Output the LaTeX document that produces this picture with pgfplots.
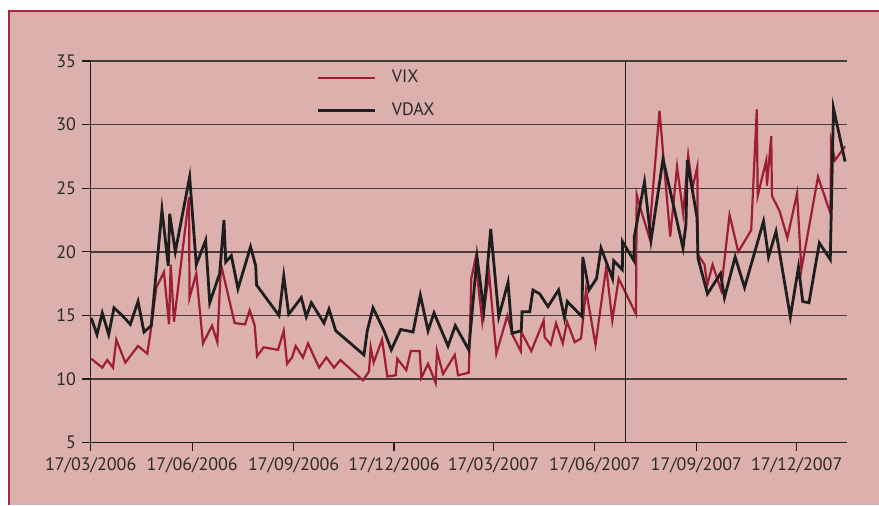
\documentclass[border=0pt]{standalone}
\usepackage{pgfplots}
\pgfplotsset{compat=1.18}
\usepackage{fontspec}
\setmainfont{PT Sans}
\definecolor{bgpink}{HTML}{DCB0AC}
\definecolor{framered}{HTML}{A8283A}
\definecolor{vixred}{HTML}{9E1F35}
\definecolor{vdaxblack}{HTML}{1E1E1E}
\definecolor{gridc}{HTML}{4A3A3A}
\definecolor{txt}{HTML}{2A2A2A}
\begin{document}
\begin{tikzpicture}
\fill[white] (0,0) rectangle (439.5pt,252.5pt);
\fill[bgpink] (4.5pt,0) rectangle (439.5pt,247pt);
\draw[framered, line width=1pt] (4.5pt,0) -- (4.5pt,247pt) -- (439.5pt,247pt);
\begin{axis}[
  at={(45.35pt,31.15pt)}, anchor=south west,
  scale only axis, width=378pt, height=190.85pt,
  xmin=0, xmax=685.3, ymin=5, ymax=35,
  axis lines=left,
  axis line style={-, draw=vdaxblack, line width=0.7pt},
  xtick={0,92,184,275,365,457,549,640},
  xticklabels={17/03/2006,17/06/2006,17/09/2006,17/12/2006,17/03/2007,17/06/2007,17/09/2007,17/12/2007},
  ytick={5,10,15,20,25,30,35},
  ymajorgrids,
  grid style={draw=gridc, line width=0.7pt},
  tick align=outside, major tick length=4.2pt,
  tick style={draw=vdaxblack, line width=0.6pt},
  /pgf/number format/assume math mode=true,
  ticklabel style={font=\fontsize{9}{10}\selectfont, text=txt},
  yticklabel style={inner sep=0pt, xshift=-3pt},
  xticklabel style={inner sep=0pt, yshift=-3pt},
  legend cell align=left,
  legend image code/.code={\draw[#1] (0pt,0pt) -- (28.5pt,0pt);},
  legend style={at={(0.298,0.978)}, anchor=north west, draw=none, fill=none,
    inner sep=0pt, row sep=8.5pt, font=\fontsize{9}{10}\selectfont, text=txt,
    nodes={inner sep=0pt},
    /tikz/every odd column/.append style={column sep=7.8pt}},
]
\addplot[vixred, line width=1.1pt, line join=miter] coordinates {
(0.5,11.6)(10.5,10.9)(15.0,11.5)(20.2,10.9)(23.2,13.1)(31.4,11.3)(42.9,12.6)(51.3,12.0)(54.9,14.1)(59.5,17.2)(66.4,18.4)(71.0,14.3)(72.5,19.0)(75.5,14.5)(89.1,24.3)(89.6,16.4)(95.7,18.3)(101.8,12.8)(110.0,14.2)(114.8,12.9)(118.1,19.0)(130.5,14.4)(139.9,14.3)(144.1,15.4)(148.7,14.2)(150.8,11.8)(156.8,12.5)(169.8,12.3)(175.0,13.8)(178.0,11.2)(182.5,11.7)(185.8,12.6)(192.4,11.7)(197.0,12.8)(207.0,10.9)(213.6,11.7)(220.6,10.9)(226.3,11.5)(246.8,9.9)(252.3,10.6)(253.8,12.5)(256.5,11.3)(264.1,13.1)(268.9,10.2)(276.5,10.3)(277.9,11.6)(286.1,10.7)(290.1,12.2)(298.2,12.2)(299.7,10.1)(305.8,11.2)(312.7,9.7)(313.9,12.2)(319.4,10.4)(330.0,11.9)(333.0,10.3)(342.7,10.5)(345.0,17.9)(348.6,19.4)(355.0,14.5)(361.1,18.3)(367.7,12.0)(377.7,15.0)(382.8,13.4)(389.8,12.2)(390.3,13.7)(399.4,12.2)(410.6,14.6)(411.5,13.3)(417.0,12.7)(421.8,14.4)(427.9,12.8)(431.8,14.5)(438.8,12.9)(444.5,13.2)(449.0,17.0)(457.6,12.7)(467.3,18.8)(472.8,14.6)(478.6,17.9)(494.3,15.1)(494.9,24.5)(499.1,23.2)(506.1,21.2)(515.6,31.1)(525.3,21.2)(531.5,26.7)(537.1,23.0)(541.6,27.6)(545.5,25.0)(549.9,26.7)(550.3,19.8)(556.4,19.0)(558.9,17.4)(563.7,19.0)(571.4,17.0)(579.1,22.9)(587.0,20.0)(598.7,21.7)(603.8,31.2)(604.6,24.4)(612.4,27.2)(613.0,25.2)(616.9,29.1)(617.5,24.4)(624.5,23.2)(631.5,21.1)(640.3,24.6)(644.2,18.6)(659.3,25.9)(670.6,23.0)(671.1,28.7)(674.7,27.2)(683.8,28.3)
};
\addlegendentry{VIX}
\addplot[vdaxblack, line width=1.4pt, line join=miter] coordinates {
(0.5,14.8)(5.7,13.5)(10.5,15.2)(16.3,13.5)(21.1,15.6)(28.6,15.0)(35.9,14.3)(42.9,16.1)(48.3,13.7)(54.9,14.2)(64.6,23.3)(70.3,18.9)(71.6,23.0)(76.7,20.0)(89.7,25.9)(95.7,19.0)(104.2,20.9)(107.9,16.0)(116.9,18.3)(120.8,22.5)(122.4,19.2)(127.5,19.7)(133.5,17.1)(144.9,20.4)(149.6,18.9)(150.3,17.4)(170.7,15.0)(175.0,18.1)(179.5,15.1)(190.9,16.4)(195.4,14.9)(200.0,16.0)(211.5,14.4)(216.0,15.5)(222.1,13.8)(247.7,11.9)(250.7,13.8)(255.9,15.6)(265.9,13.8)(272.5,12.3)(281.0,13.9)(292.2,13.7)(298.8,16.6)(305.8,13.8)(311.2,15.2)(323.9,12.6)(330.5,14.2)(342.7,12.3)(350.2,19.6)(356.3,15.4)(362.6,21.8)(369.9,14.9)(378.3,17.6)(381.9,13.6)(390.3,13.8)(391.0,15.3)(398.0,15.3)(400.9,17.0)(407.0,16.7)(414.5,15.7)(424.1,17.0)(429.5,14.8)(432.0,16.1)(445.4,14.9)(446.0,19.6)(451.7,17.0)(458.5,17.9)(462.6,20.3)(473.0,17.9)(474.1,19.3)(481.9,18.6)(482.1,20.8)(492.5,19.3)(492.8,21.2)(502.0,25.5)(507.9,20.9)(518.8,27.3)(536.9,20.3)(539.6,22.2)(540.8,27.2)(549.6,22.7)(550.5,19.5)(559.1,16.7)(570.9,18.3)(574.5,16.4)(584.2,19.6)(592.7,17.2)(609.9,22.4)(614.4,19.6)(621.2,21.6)(634.2,14.9)(641.6,18.8)(645.4,16.1)(651.1,16.0)(660.5,20.7)(670.4,19.4)(673.3,31.3)(683.8,27.1)
};
\addlegendentry{VDAX}
\draw[vdaxblack, line width=0.8pt] (axis cs:484.6,5) -- (axis cs:484.6,35);
\end{axis}
\pgfresetboundingbox
\path (0,0) rectangle (439.5pt,252.5pt);
\end{tikzpicture}
\end{document}
